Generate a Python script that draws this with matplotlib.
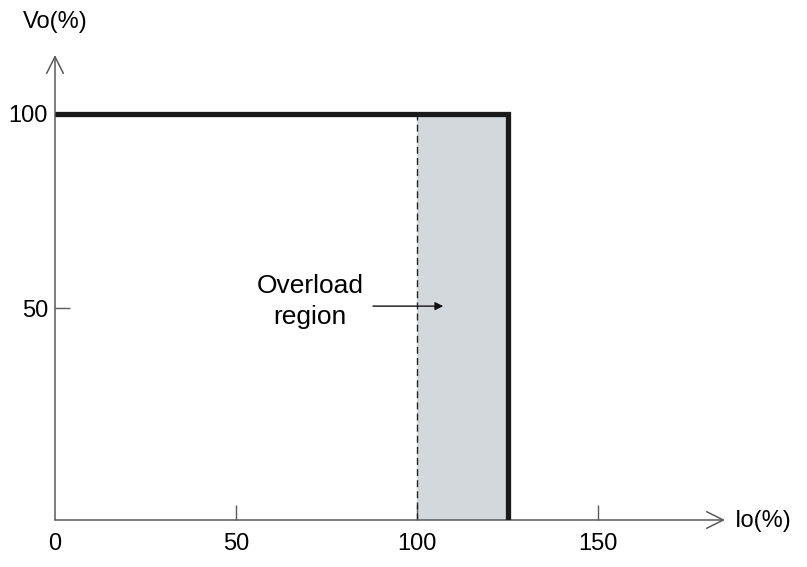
import matplotlib.pyplot as plt

# data
io_curve = [0, 125, 125]
vo_curve = [100, 100]
overload_start = 100
overload_end = 125
x_ticks = [0, 50, 100, 150]
y_ticks = [50, 100]

plt.rcParams['font.family'] = ['Liberation Sans', 'DejaVu Sans']

fig = plt.figure(figsize=(8.07, 5.67), dpi=100)
ax = fig.add_axes([55 / 807, 47 / 567, 670 / 807, 465 / 567])
ax.set_xlim(0, 185)
ax.set_ylim(-4.6, 115.2)
y0 = ax.get_ylim()[0]

axis_col = '#5a5a5a'
for s in ['top', 'right', 'left', 'bottom']:
    ax.spines[s].set_visible(False)

# axes with arrow heads
ax.annotate('', xy=(1, 0), xytext=(0, 0), xycoords='axes fraction',
            arrowprops=dict(arrowstyle='->', color=axis_col, lw=1.1,
                            mutation_scale=30, shrinkA=0, shrinkB=0))
ax.annotate('', xy=(0, 1), xytext=(0, 0), xycoords='axes fraction',
            arrowprops=dict(arrowstyle='->', color=axis_col, lw=1.1,
                            mutation_scale=30, shrinkA=0, shrinkB=0))

# overload region
ax.fill_between([overload_start, overload_end], y0, vo_curve[0],
                color='#d3d8dd', lw=0, zorder=1)
ax.plot([overload_start, overload_start], [y0, vo_curve[0]], color='#222222',
        lw=1.0, ls=(0, (5, 3)), zorder=2)

# output characteristic
ax.plot(io_curve, vo_curve + [y0], color='#1a1a1a', lw=3.8,
        solid_joinstyle='miter', solid_capstyle='butt', zorder=3)

# ticks
ax.set_xticks(x_ticks)
ax.set_yticks(y_ticks)
ax.tick_params(axis='x', direction='in', length=11, width=1, color=axis_col,
               pad=9, labelsize=17)
ax.tick_params(axis='y', direction='in', length=11, width=1, color=axis_col,
               pad=5, labelsize=17)
ax.xaxis.get_major_ticks()[0].tick1line.set_visible(False)

# labels
fig.text(55 / 807, 1 - 22 / 567, 'Vo(%)', ha='center', va='center', fontsize=17)
fig.text(763 / 807, 1 - 521 / 567, 'Io(%)', ha='center', va='center', fontsize=17)

ax.text(70.4, 51.6, 'Overload\nregion', ha='center', va='center',
        fontsize=19, linespacing=1.38)
ax.annotate('', xy=(107.2, 50.5), xytext=(87.8, 50.5),
            arrowprops=dict(arrowstyle='-|>', color='#111111', lw=1,
                            mutation_scale=12, shrinkA=0, shrinkB=0))

plt.savefig('out.png', dpi=100)
